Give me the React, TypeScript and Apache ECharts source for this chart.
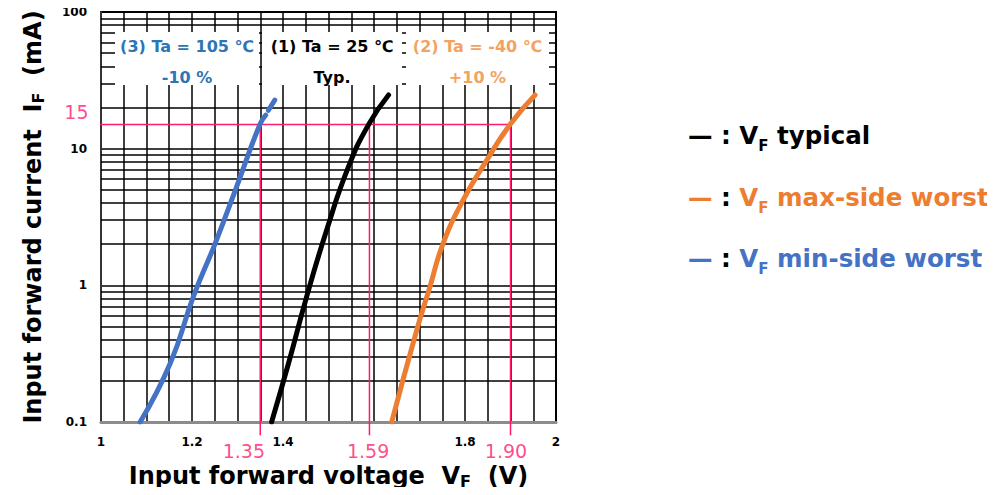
import React, { useEffect, useRef } from "react";
import * as echarts from "echarts";

// ---- data ----
const xMin = 1;
const xMax = 2;
const xStep = 0.05;
const xLabelValues = [1, 1.2, 1.4, 1.8, 2];
const xLabelTexts = ["1", "1.2", "1.4", "1.8", "2"];
const yMin = 0.1;
const yMax = 100;
const yLabelValues = [0.1, 1, 10, 100];
const yLabelTexts = ["0.1", "1", "10", "100"];
const yMinorValues = [0.2, 0.3, 0.4, 0.5, 0.6, 0.7, 0.8, 0.9, 2, 3, 4, 5, 6, 7, 8, 9, 20, 30, 40, 50, 60, 70, 80, 90];

// VF typical (Ta = 25 C)
const typV = [1.375, 1.412, 1.452, 1.496, 1.544, 1.588, 1.632];
const typI = [0.1, 0.268, 0.826, 2.54, 7.38, 15, 24.7];
// VF max-side worst (Ta = -40 C, +10 %)
const maxV = [1.639, 1.694, 1.723, 1.752, 1.796, 1.848, 1.899, 1.954];
const maxI = [0.1, 0.471, 0.977, 2.03, 4.21, 8.25, 15, 24.7];
// VF min-side worst (Ta = 105 C, -10 %)
const minV = [1.086, 1.152, 1.203, 1.251, 1.298, 1.349, 1.362];
const minI = [0.1, 0.268, 0.826, 2.03, 5.26, 15, 17.6];
const minTipV = [1.368, 1.382];
const minTipI = [19.1, 22.7];

// reference (pink) lines
const refCurrent = 15;
const refLeftV = 0.969;
const refBottomI = 0.08;
const refVoltages = [1.35, 1.59, 1.9];
const refVoltageTexts = ["1.35", "1.59", "1.90"];
const refLabelV = [1.314, 1.587, 1.89];
const refLabelI = 0.061;
const refCurrentLabelPos = [0.946, 18.4];
const refCurrentText = "15";

const boxLine1 = ["(3) Ta = 105 ℃", "(1) Ta = 25 ℃", "(2) Ta = -40 ℃"];
const boxLine2 = ["-10 %", "Typ.", "+10 %"];
const legendTexts = ["typical", "max-side worst", "min-side worst"];

// ---- styles ----
const FONT = "'DejaVu Sans', Verdana, sans-serif";
const PINK = "#ff1a6e";
const BLACK = "#000000";
const ORANGE = "#ed7d31";
const BLUE = "#4472c4";
const BOX_BLUE = "#2e75b6";
const BOX_ORANGE = "#f4a261";

const pairs = (xs: number[], ys: number[]) => xs.map((x, i) => [x, ys[i]]);
const near = (a: number, b: number) => Math.abs(a - b) < 1e-6 * Math.max(1, Math.abs(b));

export default function App() {
  const ref = useRef<HTMLDivElement>(null);
  useEffect(() => {
    const chart = echarts.init(ref.current!, null, { renderer: "svg" });

    const curve = (name: string, data: number[][], color: string) => ({
      name,
      type: "line",
      data,
      smooth: 0.5,
      symbol: "none",
      z: 4,
      lineStyle: { color, width: 5, cap: "round" },
    });

    const pinkLine = (data: number[][]) => ({
      type: "line",
      data,
      clip: false,
      symbol: "none",
      silent: true,
      z: 3,
      lineStyle: { color: PINK, width: 1.5 },
    });

    const axisNameRich = {
      m: { fontSize: 24, fontWeight: "bold", fontFamily: FONT, color: BLACK, lineHeight: 26 },
      s: { fontSize: 16, fontWeight: "bold", fontFamily: FONT, color: BLACK, lineHeight: 14, verticalAlign: "bottom" },
    };

    const LS = 24.5;
    const legendRich = (color: string) => ({
      d: { fontSize: LS, fontWeight: "bold", fontFamily: FONT, fill: color, lineHeight: 36 },
      c: { fontSize: LS, fontWeight: "bold", fontFamily: FONT, fill: BLACK, lineHeight: 36 },
      v: { fontSize: LS, fontWeight: "bold", fontFamily: FONT, fill: color, lineHeight: 36 },
      s: { fontSize: 15, fontWeight: "bold", fontFamily: FONT, fill: color, lineHeight: 20, verticalAlign: "bottom" },
      t: { fontSize: LS, fontWeight: "bold", fontFamily: FONT, fill: color, lineHeight: 36 },
    });

    const legendColors = [BLACK, ORANGE, BLUE];
    const legendY = [135, 197, 258];

    const boxes = [
      { x: 115, w: 144, c: BOX_BLUE },
      { x: 262, w: 140, c: BLACK },
      { x: 406, w: 143, c: BOX_ORANGE },
    ];

    const graphic: any[] = [];
    boxes.forEach((b, i) => {
      graphic.push({
        type: "rect",
        z: 10,
        silent: true,
        shape: { x: b.x, y: 32, width: b.w, height: 53 },
        style: { fill: "#ffffff" },
      });
      graphic.push({
        type: "text",
        z: 11,
        x: b.x + b.w / 2,
        y: 46,
        style: { text: boxLine1[i], fill: b.c, font: `bold 16px ${FONT}`, align: "center", verticalAlign: "middle" },
      });
      graphic.push({
        type: "text",
        z: 11,
        x: b.x + b.w / 2,
        y: 77,
        style: { text: boxLine2[i], fill: b.c, font: `bold 16px ${FONT}`, align: "center", verticalAlign: "middle" },
      });
    });
    legendTexts.forEach((t, i) => {
      graphic.push({
        type: "text",
        z: 11,
        x: 688,
        y: legendY[i],
        style: {
          text: `{d|—}{c| : }{v|V}{s|F}{t| ${t}}`,
          rich: legendRich(legendColors[i]),
          verticalAlign: "middle",
        },
      });
    });

    const option: any = {
      animation: false,
      grid: {
        left: 101,
        right: 439,
        top: 12,
        bottom: 73,
        containLabel: false,
        outerBoundsMode: "none",
        show: true,
        borderColor: BLACK,
        borderWidth: 2,
        backgroundColor: "#ffffff",
      },
      xAxis: {
        type: "value",
        min: xMin,
        max: xMax,
        interval: xStep,
        axisLine: { show: true, onZero: false, lineStyle: { color: "#8c8c8c", width: 3 } },
        axisTick: { show: false },
        splitLine: { show: true, lineStyle: { color: BLACK, width: 1.5 } },
        axisLabel: {
          margin: 14,
          color: BLACK,
          fontWeight: "bold",
          fontSize: 12,
          fontFamily: FONT,
          showMinLabel: true,
          showMaxLabel: true,
          formatter: (v: number) => {
            const k = xLabelValues.findIndex((t) => near(v, t));
            return k >= 0 ? xLabelTexts[k] : "";
          },
        },
        name: "{m|Input forward voltage  V}{s|F}{m|  (V)}",
        nameLocation: "middle",
        nameGap: 41,
        nameTextStyle: { rich: axisNameRich },
      },
      yAxis: {
        type: "log",
        logBase: 10,
        min: yMin,
        max: yMax,
        axisLine: { show: true, lineStyle: { color: "#333333", width: 2 } },
        axisTick: { show: false },
        splitLine: { show: true, lineStyle: { color: BLACK, width: 1.5 } },
        axisLabel: {
          margin: 14,
          color: BLACK,
          fontWeight: "bold",
          fontSize: 12,
          fontFamily: FONT,
          formatter: (v: number) => {
            const k = yLabelValues.findIndex((t) => near(v, t));
            return k >= 0 ? yLabelTexts[k] : "";
          },
        },
        name: "{m|Input forward current  I}{s|F}{m|  (mA)}",
        nameLocation: "middle",
        nameRotate: 90,
        nameGap: 55,
        nameTextStyle: { rich: axisNameRich },
      },
      series: [
        {
          ...curve("VF typical", pairs(typV, typI), BLACK),
          markLine: {
            silent: true,
            z: 1,
            symbol: "none",
            label: { show: false },
            lineStyle: { color: BLACK, width: 1.5, type: "solid" },
            data: yMinorValues.map((v) => ({ yAxis: v })),
          },
        },
        curve("VF max-side worst", pairs(maxV, maxI), ORANGE),
        curve("VF min-side worst", pairs(minV, minI), BLUE),
        curve("VF min-side worst tip", pairs(minTipV, minTipI), BLUE),
        pinkLine([
          [refLeftV, refCurrent],
          [refVoltages[2], refCurrent],
        ]),
        ...refVoltages.map((v) =>
          pinkLine([
            [v, refCurrent],
            [v, refBottomI],
          ])
        ),
        {
          type: "scatter",
          clip: false,
          silent: true,
          symbolSize: 1,
          itemStyle: { color: "transparent" },
          z: 5,
          data: [
            ...refLabelV.map((v, i) => ({ value: [v, refLabelI], name: refVoltageTexts[i] })),
            { value: refCurrentLabelPos, name: refCurrentText },
          ],
          label: {
            show: true,
            position: "inside",
            formatter: "{b}",
            color: PINK,
            fontSize: 19,
            lineHeight: 19,
            fontFamily: FONT,
          },
        },
      ],
      graphic,
    };

    chart.setOption(option);
    return () => chart.dispose();
  }, []);

  return <div ref={ref} style={{ width: 995, height: 495, margin: -8 }} />;
}
